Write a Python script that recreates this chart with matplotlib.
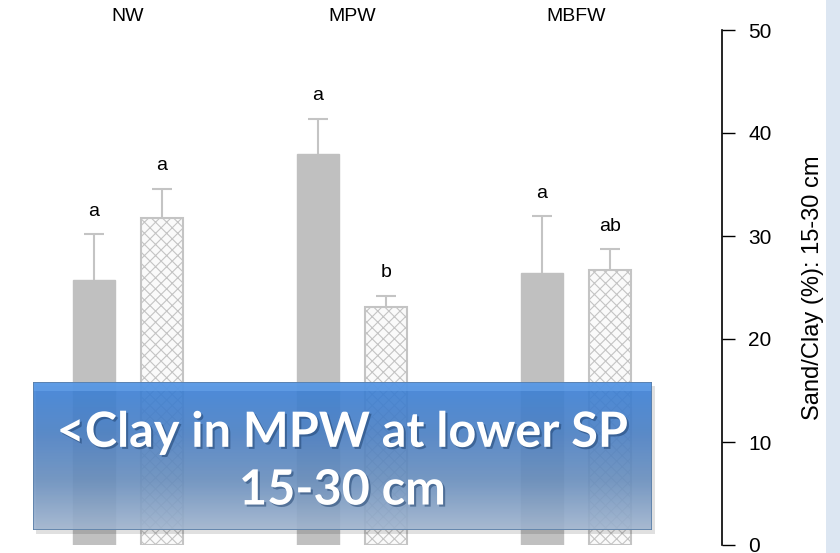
import numpy as np
import matplotlib.pyplot as plt
import matplotlib.patheffects as pe
from matplotlib.patches import Rectangle
from matplotlib.colors import LinearSegmentedColormap

plt.rcParams['font.family'] = ['Liberation Sans', 'DejaVu Sans']
plt.rcParams['hatch.color'] = '#c4c4c4'
plt.rcParams['hatch.linewidth'] = 0.8

# data
groups = ['NW', 'MPW', 'MBFW']
solid_vals = [25.7, 38.0, 26.4]
solid_err = [4.5, 3.4, 5.5]
hatch_vals = [31.7, 23.1, 26.7]
hatch_err = [2.9, 1.1, 2.0]
solid_letters = ['a', 'a', 'a']
hatch_letters = ['a', 'b', 'ab']

fig = plt.figure(figsize=(8.4, 5.53), dpi=100)
W, H = 840, 553
ax = fig.add_axes([0, 8 / H, 722 / W, 515 / H])

x = np.arange(len(groups))
bw = 0.1875
off = 0.152
ecol = '#c4c4c4'

ax.bar(x - off, solid_vals, bw, color='#c0c0c0', edgecolor='#c0c0c0', linewidth=1, zorder=2)
ax.bar(x + off, hatch_vals, bw, color='#fafafa', edgecolor=ecol, linewidth=1.5, hatch='xxx', zorder=2)

# upper error bars only
for xs, v, e in [(x - off, solid_vals, solid_err), (x + off, hatch_vals, hatch_err)]:
    v = np.array(v)
    e = np.array(e)
    ax.vlines(xs, v, v + e, color=ecol, linewidth=1.5, zorder=1)
    ax.plot(xs, v + e, ls='none', marker='_', markersize=15, markeredgewidth=1.5, color=ecol, zorder=1)

for i in range(len(groups)):
    ax.text(x[i] - off, solid_vals[i] + solid_err[i] + 1.4, solid_letters[i],
            ha='center', va='bottom', fontsize=14)
    ax.text(x[i] + off, hatch_vals[i] + hatch_err[i] + 1.4, hatch_letters[i],
            ha='center', va='bottom', fontsize=14)
    ax.text(x[i], 50.5, groups[i], ha='center', va='bottom', fontsize=14, clip_on=False)

ax.set_xlim(-128 / 224, (722 - 128) / 224)
ax.set_ylim(0, 50)
ax.set_yticks(np.arange(0, 51, 10))
ax.yaxis.tick_right()
ax.yaxis.set_label_position('right')
ax.tick_params(axis='y', direction='out', length=9, width=1, labelsize=15, pad=10)
ax.set_xticks([])
for s in ['top', 'bottom', 'left']:
    ax.spines[s].set_visible(False)
ax.spines['right'].set_linewidth(1.2)
ax.set_ylabel('Sand/Clay (%): 15-30 cm', fontsize=17, labelpad=22)
ax.patch.set_alpha(0)

# right-edge strip
fig.patches.append(Rectangle((826 / W, 0), 14 / W, 1, transform=fig.transFigure,
                             facecolor='#dce6f2', edgecolor='none', zorder=0))

# overlay box
bx0, by0, bw_, bh_ = 33 / W, (H - 530) / H, (652 - 33) / W, (530 - 382) / H
shadow = fig.add_axes([bx0 + 3 / W, by0 - 4 / H, bw_, bh_])
shadow.add_patch(Rectangle((0, 0), 1, 1, facecolor='#000000', alpha=0.12, transform=shadow.transAxes))
shadow.set_axis_off()
box = fig.add_axes([bx0, by0, bw_, bh_])
cmap = LinearSegmentedColormap.from_list('g', ['#3b82da', '#4a80c6', '#6a90bf', '#a2b6d0'])
grad = np.linspace(0, 1, 256).reshape(-1, 1)
box.imshow(grad, aspect='auto', cmap=cmap, extent=[0, 1, 0, 1], origin='upper', alpha=0.9)
box.add_patch(Rectangle((0, 0.94), 1, 0.06, facecolor='#6aa6ec', alpha=0.6, edgecolor='none'))
box.add_patch(Rectangle((0, 0), 1, 1, facecolor='none', edgecolor='#5b7fa8', linewidth=1.2))
box.set_xlim(0, 1)
box.set_ylim(0, 1)
box.set_axis_off()

shadow_fx = [pe.withSimplePatchShadow(offset=(1.5, -1.5), shadow_rgbFace='#1c3e6a', alpha=0.5)]
box.text(0.5, 0.66, '<Clay in MPW at lower SP', ha='center', va='center', color='white',
         fontsize=35, fontweight='bold', family=['Lato', 'DejaVu Sans'], path_effects=shadow_fx)
box.text(0.5, 0.27, '15-30 cm', ha='center', va='center', color='white',
         fontsize=35, fontweight='bold', family=['Lato', 'DejaVu Sans'], path_effects=shadow_fx)

fig.savefig('out.png', dpi=100)
